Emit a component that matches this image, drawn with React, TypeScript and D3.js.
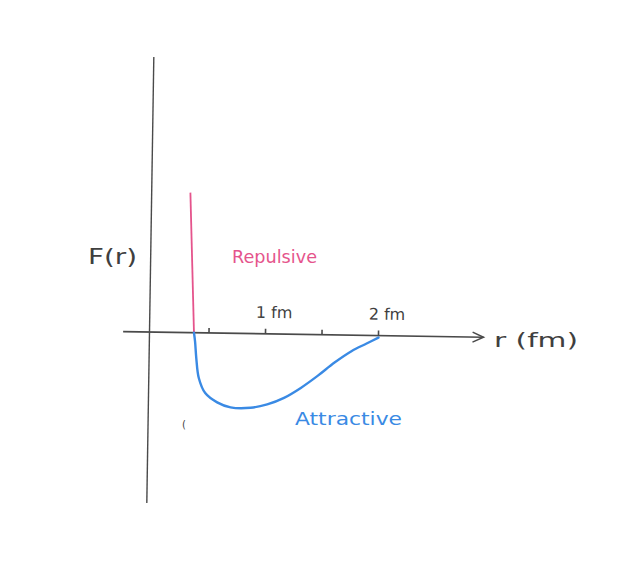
import React from "react";
import * as d3 from "d3";

// Attractive branch of the nuclear force (r in fm, F in arbitrary units)
const attractiveR = [0.367, 0.378, 0.391, 0.416, 0.475, 0.582, 0.701, 0.878, 1.025, 1.173, 1.32, 1.467, 1.615, 1.763, 1.896, 2.0];
const attractiveF = [0, -0.9, -2.53, -4.52, -6.02, -6.93, -7.41, -7.42, -7.05, -6.37, -5.35, -4.12, -2.76, -1.6, -0.81, -0.2];
// Repulsive wall
const repulsiveR = [0.367, 0.316];
const repulsiveF = [0, 14];
// Ticks
const minorTicks = [0.5, 1, 1.5, 2];
const labelTicks = [1, 2];
const tickLabels = ["1 fm", "2 fm"];
const xDomain = [-0.26, 2.93];
const yDomain = [-17.1, 27.5];

export default function App() {
  const W = 644;
  const H = 561;
  const x = d3.scaleLinear().domain([0, 2]).range([3, 229]);
  const y = d3.scaleLinear().domain([0, 10]).range([0, -100]);

  const attractive = attractiveR.map((r, i) => [r, attractiveF[i]] as [number, number]);
  const repulsive = repulsiveR.map((r, i) => [r, repulsiveF[i]] as [number, number]);

  const line = d3
    .line<[number, number]>()
    .x((d) => x(d[0]))
    .y((d) => y(d[1]))
    .curve(d3.curveCatmullRom.alpha(0.5));
  const straight = d3
    .line<[number, number]>()
    .x((d) => x(d[0]))
    .y((d) => y(d[1]));

  const axisColor = "#4a4a4a";
  const textColor = "#3f3f3f";
  const pink = "#e5548c";
  const blue = "#3a8ae4";
  const xEnd = x(xDomain[1]);

  return (
    <svg
      width={W}
      height={H}
      style={{ position: "absolute", left: 0, top: 0, background: "#fff" }}
      fontFamily="'DejaVu Sans', sans-serif"
    >
      <rect width={W} height={H} fill="#fff" />
      <g transform="translate(149.5,332) rotate(0.9)">
        {/* vertical axis */}
        <line x1={0} x2={0} y1={y(yDomain[0])} y2={y(yDomain[1])} stroke={axisColor} strokeWidth={1.4} />
        {/* horizontal axis */}
        <line x1={x(xDomain[0])} x2={xEnd} y1={0} y2={0} stroke={axisColor} strokeWidth={1.7} />
        <path
          d={`M${xEnd - 11},-5 L${xEnd},0 L${xEnd - 11},5`}
          fill="none"
          stroke={axisColor}
          strokeWidth={1.5}
        />
        {minorTicks.map((t) => (
          <line key={t} x1={x(t)} x2={x(t)} y1={0} y2={-5} stroke={axisColor} strokeWidth={1.6} />
        ))}
        {labelTicks.map((t, i) => (
          <text key={t} x={x(t) - 10} y={-16} fontSize={16} fill={textColor}>
            {tickLabels[i]}
          </text>
        ))}
        {/* repulsive wall */}
        <path d={straight(repulsive) || ""} fill="none" stroke={pink} strokeWidth={1.8} />
        {/* attractive well */}
        <path d={line(attractive) || ""} fill="none" stroke={blue} strokeWidth={2.4} strokeLinecap="round" />
      </g>
      <text x={88} y={264} fontSize={21} fill={textColor} textLength={49} lengthAdjust="spacingAndGlyphs">
        F(r)
      </text>
      <text x={232} y={263} fontSize={17} fill={pink} textLength={85} lengthAdjust="spacingAndGlyphs">
        Repulsive
      </text>
      <text x={295} y={425} fontSize={17} fill={blue} textLength={107} lengthAdjust="spacingAndGlyphs">
        Attractive
      </text>
      <text x={494} y={347} fontSize={20} fill={textColor} textLength={84} lengthAdjust="spacingAndGlyphs">
        r (fm)
      </text>
      <text x={182} y={428} fontSize={10} fill={textColor}>
        (
      </text>
    </svg>
  );
}
